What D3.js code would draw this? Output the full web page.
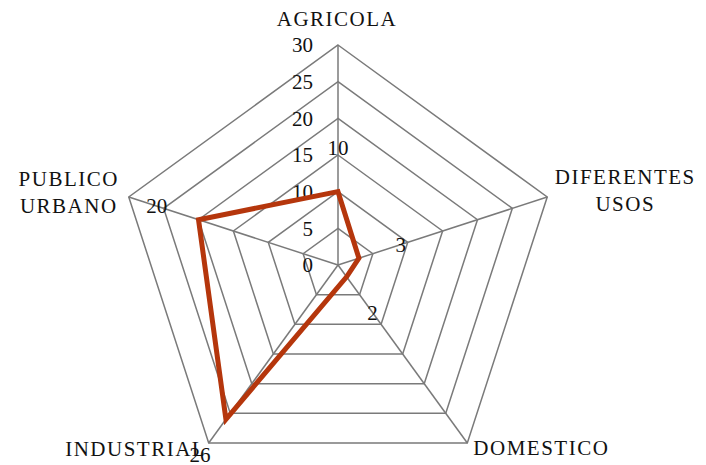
<!DOCTYPE html>
<html>
<head>
<meta charset="utf-8">
<script src="https://cdn.jsdelivr.net/npm/d3@7"></script>
<style>
  body { margin: 0; background: #fff; }
  text { font-family: "Liberation Serif", "DejaVu Serif", serif; font-size: 21px; fill: #111; }
</style>
</head>
<body>
<script>
// categories and values
var categories = ['AGRICOLA', 'DIFERENTES USOS', 'DOMESTICO', 'INDUSTRIAL', 'PUBLICO URBANO'];
var values = [10, 3, 2, 26, 20];
var ticks = [0, 5, 10, 15, 20, 25, 30];

var width = 706, height = 465;
var cx = 338, cy = 265, R = 220;

var svg = d3.select('body').append('svg')
  .attr('width', width)
  .attr('height', height);

var g = svg.append('g').attr('transform', 'translate(' + cx + ',' + cy + ')');

var r = d3.scaleLinear().domain([0, 30]).range([0, R]);
var angle = d3.scalePoint()
  .domain(categories)
  .range([0, 2 * Math.PI * (categories.length - 1) / categories.length]);

function pt(cat, rad) {
  var a = angle(cat);
  return [rad * Math.sin(a), -rad * Math.cos(a)];
}

// grid rings
g.selectAll('.ring')
  .data(ticks.slice(1))
  .enter().append('path')
  .attr('class', 'ring')
  .attr('d', function(t) {
    return d3.lineRadial()
      .angle(function(c) { return angle(c); })
      .radius(r(t))
      .curve(d3.curveLinearClosed)(categories);
  })
  .style('fill', 'none')
  .style('stroke', '#7a7a7a')
  .style('stroke-width', 1.5);

// spokes
g.selectAll('.spoke')
  .data(categories)
  .enter().append('line')
  .attr('x1', 0).attr('y1', 0)
  .attr('x2', function(c) { return pt(c, R)[0]; })
  .attr('y2', function(c) { return pt(c, R)[1]; })
  .style('stroke', '#7a7a7a')
  .style('stroke-width', 1.5);

// tick labels
g.selectAll('.tick')
  .data(ticks)
  .enter().append('text')
  .attr('x', -25)
  .attr('y', function(t) { return -r(t); })
  .attr('dy', '0.35em')
  .style('text-anchor', 'end')
  .text(function(t) { return t; });

// series
g.append('path')
  .datum(values)
  .attr('d', d3.lineRadial()
    .angle(function(d, i) { return angle(categories[i]); })
    .radius(function(d) { return r(d); })
    .curve(d3.curveLinearClosed))
  .style('fill', 'none')
  .style('stroke', '#b5360c')
  .style('stroke-width', 5)
  .style('stroke-linejoin', 'miter');

// data labels
g.selectAll('.dlabel')
  .data(values)
  .enter().append('text')
  .attr('x', function(d, i) { return pt(categories[i], r(d) + 44)[0]; })
  .attr('y', function(d, i) { return pt(categories[i], r(d) + 44)[1]; })
  .attr('dy', '0.35em')
  .style('text-anchor', 'middle')
  .text(function(d) { return d; });

// category labels, offset from each outer vertex
var labelOffset = {
  'AGRICOLA': [-1, -19],
  'DIFERENTES USOS': [78, -13],
  'DOMESTICO': [74, 12],
  'INDUSTRIAL': [-73, 13],
  'PUBLICO URBANO': [-60, -11]
};

g.selectAll('.cat')
  .data(categories)
  .enter().append('text')
  .attr('transform', function(c) {
    var p = pt(c, R);
    return 'translate(' + (p[0] + labelOffset[c][0]) + ',' + (p[1] + labelOffset[c][1]) + ')';
  })
  .style('text-anchor', 'middle')
  .style('letter-spacing', '1.5px')
  .each(function(c) {
    var words = c.split(' ');
    var t = d3.select(this);
    words.forEach(function(w, i) {
      t.append('tspan').attr('x', 0).attr('dy', i ? 27 : 0).text(w);
    });
  });
</script>
</body>
</html>
